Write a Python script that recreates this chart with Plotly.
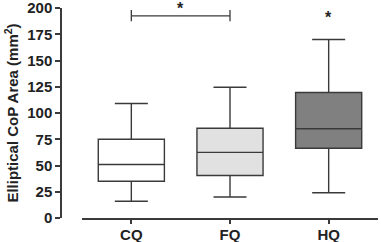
import plotly.graph_objects as go

categories = ["CQ", "FQ", "HQ"]
lower_whisker = [16, 20, 24]
q1_vals = [35, 40.5, 66.5]
medians = [51, 62.5, 85]
q3_vals = [75, 85.5, 119.5]
upper_whisker = [109, 124.5, 170]
fill_colors = ["#ffffff", "#e1e1e1", "#808080"]
y_ticks = [0, 25, 50, 75, 100, 125, 150, 175, 200]

line_col = "#3a3a3a"
fig = go.Figure()
for i, c in enumerate(categories):
    fig.add_trace(go.Box(
        x=[c], q1=[q1_vals[i]], median=[medians[i]], q3=[q3_vals[i]],
        lowerfence=[lower_whisker[i]], upperfence=[upper_whisker[i]],
        fillcolor=fill_colors[i], line=dict(color=line_col, width=1.4),
        width=0.67, whiskerwidth=0.5, boxpoints=False, showlegend=False,
        hoverinfo="skip",
    ))

# significance bracket CQ-FQ
fig.add_shape(type="line", x0=categories[0], x1=categories[1], y0=192.5, y1=192.5,
              xref="x", yref="y", line=dict(color=line_col, width=1.3))
for c in categories[:2]:
    fig.add_shape(type="line", x0=c, x1=c, y0=187.5, y1=198,
                  xref="x", yref="y", line=dict(color=line_col, width=1.3))
fig.add_annotation(x=0.5, y=197, text="<b>*</b>", showarrow=False, xref="x", yref="y",
                   font=dict(size=16, color="#222", family="Liberation Sans"), yanchor="bottom", yshift=-8)
fig.add_annotation(x=categories[2], y=190, text="<b>*</b>", showarrow=False, xref="x", yref="y",
                   font=dict(size=16, color="#222", family="Liberation Sans"), yanchor="bottom", yshift=-9)

W, H = 381, 242
ml, mr, mt, mb = 61, 3, 8, 24
plot_w = W - ml - mr
x_start = (82 - ml) / plot_w

tick_text_y = [f"<b>{v}</b>" for v in y_ticks]
tick_text_x = [f"<b>{c}</b>" for c in categories]

fig.update_layout(
    width=W, height=H, margin=dict(l=ml, r=mr, t=mt, b=mb, autoexpand=False),
    plot_bgcolor="white", paper_bgcolor="white", boxmode="overlay",
    font=dict(family="Liberation Sans", color="#222"),
    xaxis=dict(domain=[x_start, 1], range=[-0.5, 2.5], type="category",
               categoryorder="array", categoryarray=categories,
               tickvals=categories, ticktext=tick_text_x, automargin=False,
               showline=True, linecolor=line_col, linewidth=1.5,
               ticks="outside", ticklen=4, tickwidth=1.5, tickcolor=line_col,
               showgrid=False, zeroline=False, ticklabelstandoff=-2,
               ticklabeloverflow="allow",
               tickfont=dict(size=15, family="Liberation Sans", color="#222")),
    yaxis=dict(range=[0, 200.01], anchor="free", position=0, automargin=False,
               tickvals=y_ticks, ticktext=tick_text_y, ticklabeloverflow="allow",
               showline=True, linecolor=line_col, linewidth=1.5,
               ticks="outside", ticklen=5, tickwidth=1.5, tickcolor=line_col,
               showgrid=False, zeroline=False,
               tickfont=dict(size=15, family="Liberation Sans", color="#222"),
               title=dict(text="<b>Elliptical CoP Area (mm<sup>2</sup>)</b>",
                          font=dict(size=15, family="Liberation Sans", color="#222"),
                          standoff=4)),
)

fig.write_html("out.html", config={"displayModeBar": False},
               post_script="document.body.style.margin='0';document.body.style.overflow='hidden';")
